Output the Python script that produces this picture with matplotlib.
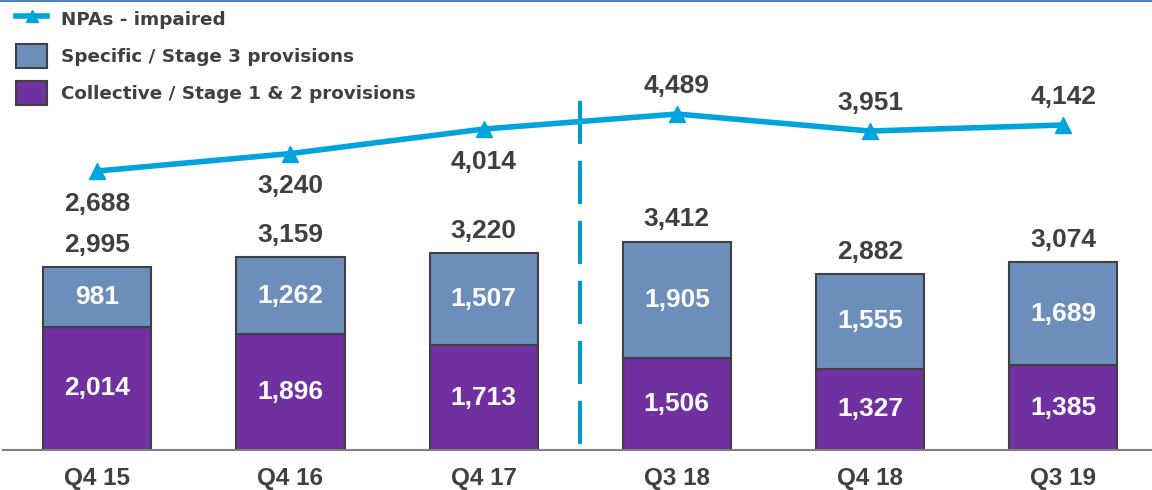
import matplotlib
matplotlib.use("Agg")
import numpy as np
import matplotlib.pyplot as plt
from matplotlib.lines import Line2D
from matplotlib.patches import Patch

quarters = ["Q4 15", "Q4 16", "Q4 17", "Q3 18", "Q4 18", "Q3 19"]
collective = [2014, 1896, 1713, 1506, 1327, 1385]
specific = [981, 1262, 1507, 1905, 1555, 1689]
totals = [2995, 3159, 3220, 3412, 2882, 3074]
npas = [2688, 3240, 4014, 4489, 3951, 4142]

PURPLE = "#7030A0"
STEEL = "#6C8EBB"
CYAN = "#00A3DC"
GREY = "#404040"

plt.rcParams['font.family'] = ['Liberation Sans', 'DejaVu Sans']

fig = plt.figure(figsize=(11.52, 4.9), dpi=100)
ax = fig.add_axes([0.003, 0.0816, 0.997, 0.9184])
x = np.arange(len(quarters))

ax.bar(x, collective, width=0.56, color=PURPLE, edgecolor=GREY, linewidth=1.5, zorder=2)
ax.bar(x, specific, width=0.56, bottom=collective, color=STEEL, edgecolor=GREY, linewidth=1.5, zorder=2)

for i in range(len(x)):
    ax.text(x[i], collective[i] / 2, f"{collective[i]:,}", ha='center', va='center',
            color='white', fontsize=19, fontweight='bold', zorder=3)
    ax.text(x[i], collective[i] + specific[i] / 2, f"{specific[i]:,}", ha='center', va='center',
            color='white', fontsize=19, fontweight='bold', zorder=3)
    ax.text(x[i], totals[i] + 170, f"{totals[i]:,}", ha='center', va='bottom',
            color=GREY, fontsize=19, fontweight='bold')

ax.set_xlim(-0.486, 5.46)
ax.set_ylim(0, 7365)
ax.set_yticks([])
for s in ['top', 'right', 'left']:
    ax.spines[s].set_visible(False)
ax.spines['bottom'].set_color('#808080')
ax.spines['bottom'].set_linewidth(1.5)
ax.set_xticks(x)
ax.set_xticklabels(quarters, fontsize=17.5, fontweight='bold', color=GREY)
ax.tick_params(axis='x', length=0, pad=12)

# NPAs on secondary scale
ax2 = ax.twinx()
ax2.set_ylim(-6127, 8091)
ax2.set_yticks([])
for s in ax2.spines.values():
    s.set_visible(False)
ax2.plot(x, npas, color=CYAN, linewidth=4, marker='^', markersize=11, zorder=4)
for i, v in enumerate(npas):
    if i < 3:
        ax2.text(x[i], v - 650, f"{v:,}", ha='center', va='top', color=GREY,
                 fontsize=19, fontweight='bold')
    else:
        ax2.text(x[i], v + 500, f"{v:,}", ha='center', va='bottom', color=GREY,
                 fontsize=19, fontweight='bold')

# period divider
ax2.plot([2.5, 2.5], [-5950, 5200], color='#0099CC', linewidth=2.9,
         linestyle=(0, (10.7, 4.2)), zorder=1)

handles = [
    Line2D([0], [0], color=CYAN, linewidth=4, marker='^', markersize=9),
    Patch(facecolor=STEEL, edgecolor=GREY, linewidth=1.5),
    Patch(facecolor=PURPLE, edgecolor=GREY, linewidth=1.5),
]
labels = ["NPAs - impaired", "Specific / Stage 3 provisions", "Collective / Stage 1 & 2 provisions"]
leg = ax2.legend(handles, labels, loc='upper left', bbox_to_anchor=(0.0, 1.012), frameon=False,
                 prop={'family': 'DejaVu Sans', 'weight': 'bold', 'size': 13.2},
                 labelcolor=GREY, handlelength=1.7, handleheight=1.6, labelspacing=0.72,
                 handletextpad=0.75, borderaxespad=0.3)

# slide border line at top
fig.add_artist(Line2D([0, 1], [0.998, 0.998], color='#4F81BD', linewidth=1.5,
                      transform=fig.transFigure))

fig.savefig("out.png", dpi=100)
